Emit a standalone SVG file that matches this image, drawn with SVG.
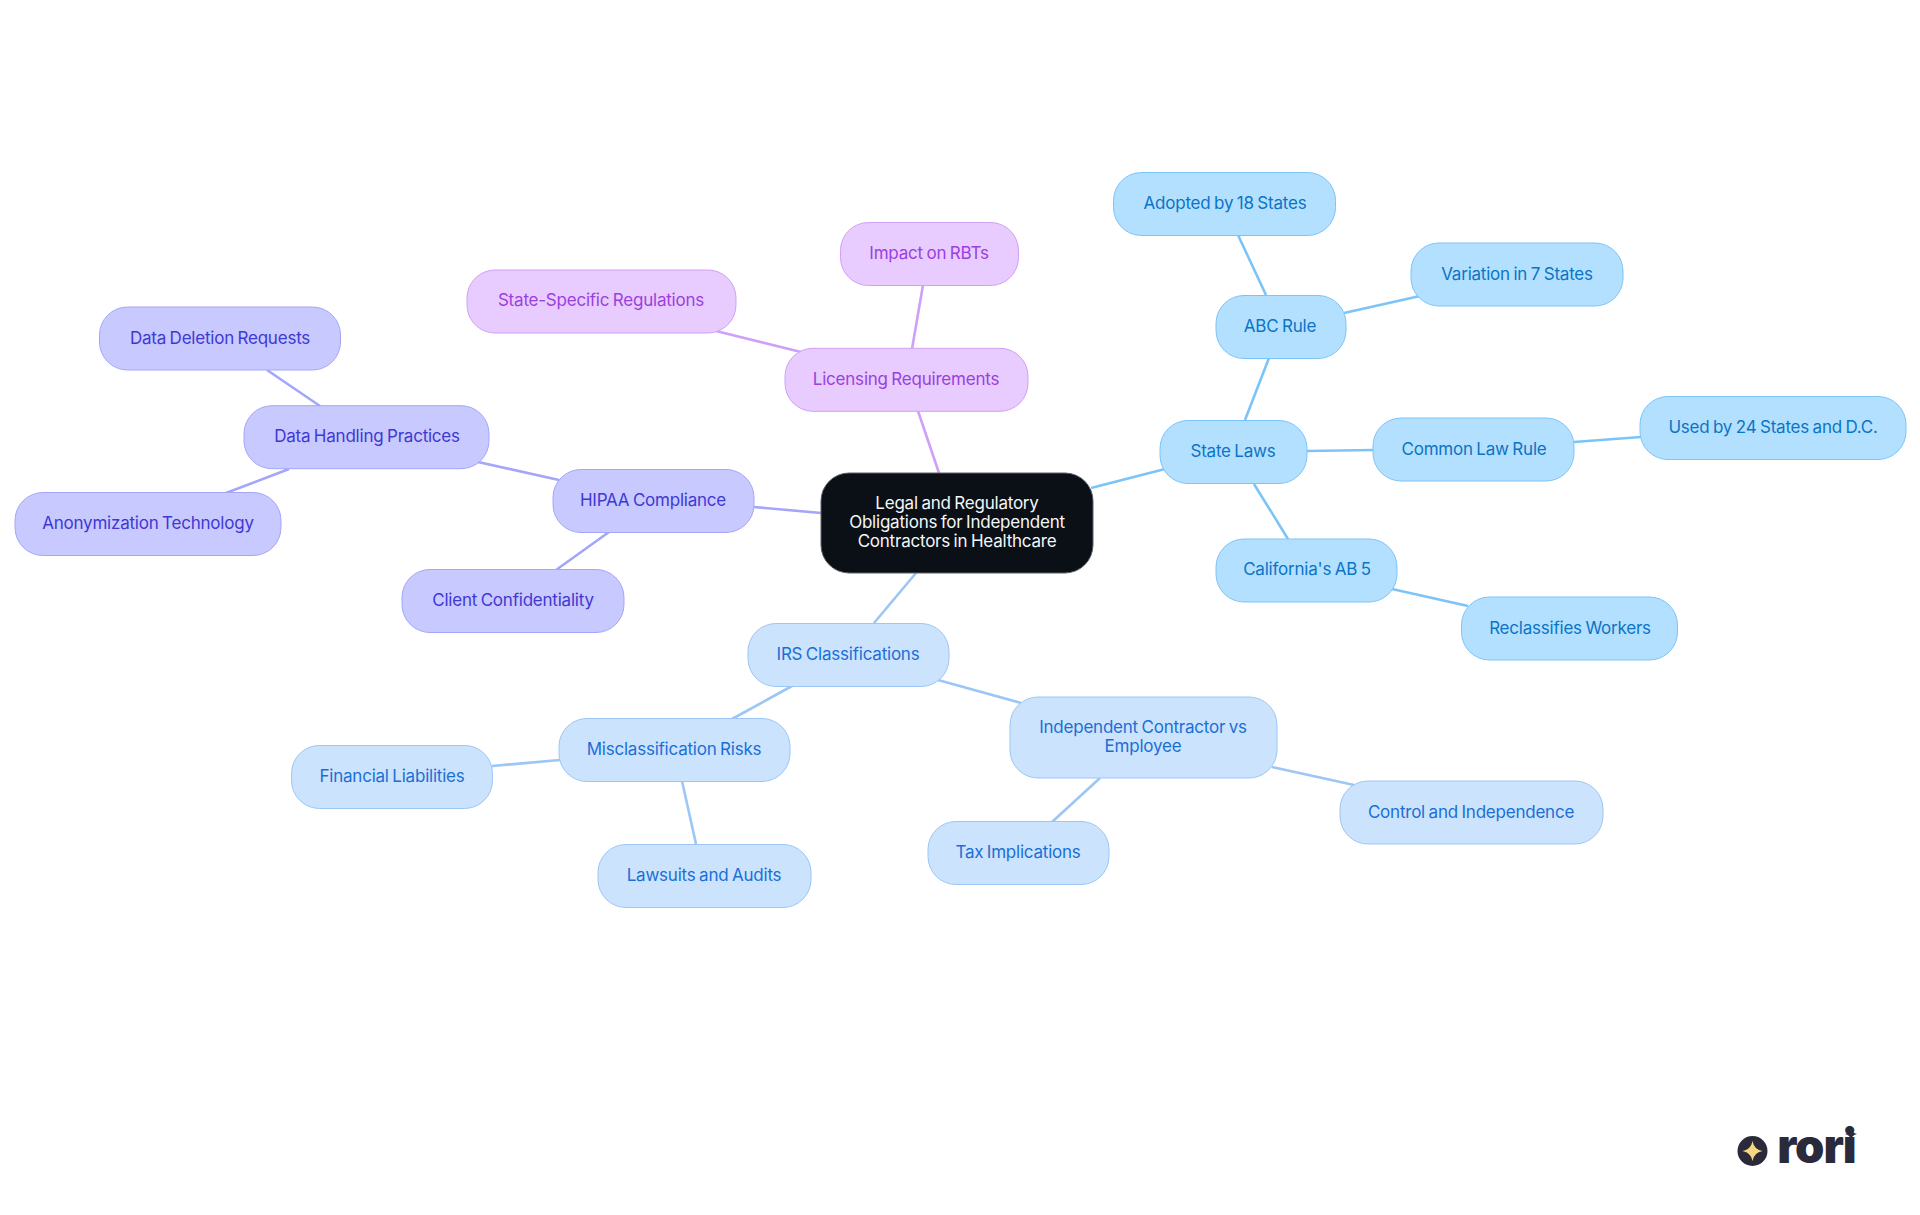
<svg xmlns="http://www.w3.org/2000/svg" width="1920" height="1215" viewBox="0 0 1920 1215">
<style>
text{font-family:"Inter","Noto Sans",sans-serif;font-size:17px;text-anchor:middle;letter-spacing:-.22px;word-spacing:-1px}
.n rect{stroke-width:1}
.c line{stroke-width:2.6}
.sky rect{fill:#b3e0ff;stroke:#7cc4f8}.sky text{fill:#0b74c6}
.blu rect{fill:#cce3fd;stroke:#9bc6f5}.blu text{fill:#1a6fd6}
.vio rect{fill:#c7c9ff;stroke:#a3a6f9}.vio text{fill:#3f38d3}
.pur rect{fill:#e8cbff;stroke:#cfa0f7}.pur text{fill:#9b3fe0}
.sky-l{stroke:#7cc4f8}.blu-l{stroke:#9bc6f5}.vio-l{stroke:#a3a6f9}.pur-l{stroke:#cfa0f7}
</style>
<rect width="1920" height="1215" fill="#fff"/>
<g id="connectors" class="c">
<line class="sky-l" x1="1091" y1="488" x2="1165" y2="469"/>
<line class="sky-l" x1="1245" y1="420" x2="1269" y2="358"/>
<line class="sky-l" x1="1266" y1="295" x2="1238" y2="235"/>
<line class="sky-l" x1="1344" y1="313" x2="1420" y2="296"/>
<line class="sky-l" x1="1307" y1="451" x2="1373" y2="450"/>
<line class="sky-l" x1="1574" y1="442" x2="1641" y2="437"/>
<line class="sky-l" x1="1254" y1="484" x2="1288" y2="539"/>
<line class="sky-l" x1="1392" y1="589" x2="1468" y2="606"/>
<line class="blu-l" x1="916" y1="573" x2="874" y2="623"/>
<line class="blu-l" x1="938" y1="680" x2="1021" y2="703"/>
<line class="blu-l" x1="1100" y1="778" x2="1052" y2="822"/>
<line class="blu-l" x1="1272" y1="767" x2="1354" y2="785"/>
<line class="blu-l" x1="792" y1="686" x2="732" y2="719"/>
<line class="blu-l" x1="560" y1="760" x2="492" y2="766"/>
<line class="blu-l" x1="682" y1="781" x2="696" y2="844"/>
<line class="vio-l" x1="821" y1="513" x2="754" y2="507"/>
<line class="vio-l" x1="559" y1="480" x2="478" y2="462"/>
<line class="vio-l" x1="320" y1="406" x2="267" y2="370"/>
<line class="vio-l" x1="289" y1="469" x2="226" y2="493"/>
<line class="vio-l" x1="609" y1="532" x2="556" y2="570"/>
<line class="pur-l" x1="939" y1="473" x2="918" y2="411"/>
<line class="pur-l" x1="912" y1="349" x2="923" y2="285"/>
<line class="pur-l" x1="801" y1="352" x2="716" y2="331"/>
</g>
<g id="root"><rect x="821" y="473" width="272" height="100" rx="28" fill="#0b1017" stroke="#5c6066" stroke-width="1"/>
<text fill="#f4f6f8" x="957" y="509">Legal and Regulatory</text><text fill="#f4f6f8" x="957" y="528">Obligations for Independent</text><text fill="#f4f6f8" x="957" y="547">Contractors in Healthcare</text></g>
<g id="state-laws" class="n sky"><rect x="1160" y="420.500" width="147" height="63" rx="28"/><text x="1233" y="457">State Laws</text></g>
<g id="abc-rule" class="n sky"><rect x="1216" y="295.500" width="130" height="63" rx="28"/><text x="1280" y="332">ABC Rule</text></g>
<g id="adopted" class="n sky"><rect x="1113.500" y="172.500" width="222" height="63" rx="28"/><text x="1225" y="209">Adopted by 18 States</text></g>
<g id="variation" class="n sky"><rect x="1411" y="243" width="212" height="63" rx="28"/><text x="1517" y="280">Variation in 7 States</text></g>
<g id="common-law" class="n sky"><rect x="1373" y="418" width="201" height="63" rx="28"/><text x="1474" y="455">Common Law Rule</text></g>
<g id="used-by" class="n sky"><rect x="1640" y="396.500" width="266" height="63" rx="28"/><text x="1773" y="433">Used by 24 States and D.C.</text></g>
<g id="california" class="n sky"><rect x="1216" y="539" width="181" height="63" rx="28"/><text x="1307" y="575">California's AB 5</text></g>
<g id="reclassifies" class="n sky"><rect x="1461.500" y="597" width="216" height="63" rx="28"/><text x="1570" y="634">Reclassifies Workers</text></g>
<g id="irs" class="n blu"><rect x="748" y="623.500" width="201" height="63" rx="28"/><text x="848" y="660">IRS Classifications</text></g>
<g id="ic-vs-employee" class="n blu"><rect x="1010" y="697" width="267" height="81" rx="28"/><text x="1143" y="733">Independent Contractor vs</text><text x="1143" y="752">Employee</text></g>
<g id="tax" class="n blu"><rect x="928" y="821.500" width="181" height="63" rx="28"/><text x="1018" y="858">Tax Implications</text></g>
<g id="control" class="n blu"><rect x="1340" y="781" width="263" height="63" rx="28"/><text x="1471" y="818">Control and Independence</text></g>
<g id="misclass" class="n blu"><rect x="559" y="718.500" width="231" height="63" rx="28"/><text x="674" y="755">Misclassification Risks</text></g>
<g id="financial" class="n blu"><rect x="291.500" y="745.500" width="201" height="63" rx="28"/><text x="392" y="782">Financial Liabilities</text></g>
<g id="lawsuits" class="n blu"><rect x="598" y="844.500" width="213" height="63" rx="28"/><text x="704" y="881">Lawsuits and Audits</text></g>
<g id="hipaa" class="n vio"><rect x="553" y="469.500" width="201" height="63" rx="28"/><text x="653" y="506">HIPAA Compliance</text></g>
<g id="data-handling" class="n vio"><rect x="244" y="405.700" width="245" height="63" rx="28"/><text x="367" y="442">Data Handling Practices</text></g>
<g id="data-deletion" class="n vio"><rect x="99.500" y="307" width="241" height="63" rx="28"/><text x="220" y="344">Data Deletion Requests</text></g>
<g id="anonymization" class="n vio"><rect x="15" y="492.500" width="266" height="63" rx="28"/><text x="148" y="529">Anonymization Technology</text></g>
<g id="client" class="n vio"><rect x="402" y="569.500" width="222" height="63" rx="28"/><text x="513" y="606">Client Confidentiality</text></g>
<g id="licensing" class="n pur"><rect x="785" y="348.300" width="243" height="63" rx="28"/><text x="906" y="385">Licensing Requirements</text></g>
<g id="impact" class="n pur"><rect x="840.500" y="222.500" width="178" height="63" rx="28"/><text x="929" y="259">Impact on RBTs</text></g>
<g id="state-specific" class="n pur"><rect x="467" y="270" width="269" height="63" rx="28"/><text x="601" y="306">State-Specific Regulations</text></g>
<g id="logo"><circle cx="1752.500" cy="1151" r="15" fill="#2a2a3a"/><path d="M1752.500 1141q1.500 8.500 10 10q-8.500 1.500-10 10q-1.500-8.500-10-10q8.500-1.500 10-10z" fill="#f8d77f"/>
<text x="1816.500" y="1163" style="font-size:47px;font-weight:900;fill:#2a2a3a;letter-spacing:-1px;word-spacing:0">rori</text>
<path d="M1851 1128q1 5 6 6q-5 1-6 6q-1-5-6-6q5-1 6-6z" fill="#2a2a3a"/></g>
</svg>
